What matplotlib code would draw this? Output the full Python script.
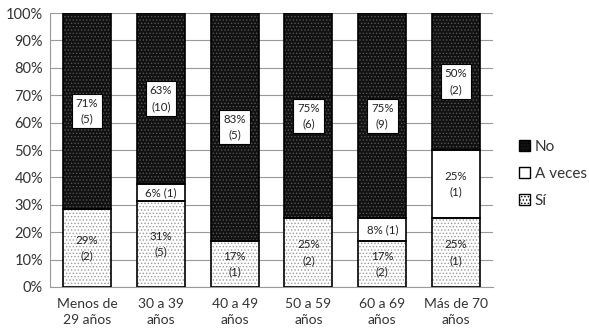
import matplotlib
matplotlib.use("Agg")
import matplotlib.pyplot as plt
from matplotlib.patches import Patch
import numpy as np

categories = ["Menos de\n29 años", "30 a 39\naños", "40 a 49\naños", "50 a 59\naños", "60 a 69\naños", "Más de 70\naños"]
si_counts = [2, 5, 1, 2, 2, 1]
aveces_counts = [0, 1, 0, 0, 1, 1]
no_counts = [5, 10, 5, 6, 9, 2]
si_labels = ["29%\n(2)", "31%\n(5)", "17%\n(1)", "25%\n(2)", "17%\n(2)", "25%\n(1)"]
aveces_labels = ["", "6% (1)", "", "", "8% (1)", "25%\n(1)"]
no_labels = ["71%\n(5)", "63%\n(10)", "83%\n(5)", "75%\n(6)", "75%\n(9)", "50%\n(2)"]
yticks = [0, 10, 20, 30, 40, 50, 60, 70, 80, 90, 100]

plt.rcParams['font.family'] = ['Lato', 'DejaVu Sans']
plt.rcParams['hatch.linewidth'] = 0.6

si = np.array(si_counts, float)
av = np.array(aveces_counts, float)
no = np.array(no_counts, float)
tot = si + av + no
si_p = si / tot * 100
av_p = av / tot * 100
no_p = no / tot * 100

fig = plt.figure(figsize=(5.89, 3.36), dpi=100)
ax = fig.add_axes([0.085, 0.146, 0.752, 0.815])
x = np.arange(len(categories))
w = 0.65

def layer(vals, bottom, face, hatchcol, hatch):
    if hatch:
        ax.bar(x, vals, w, bottom=bottom, color=face, edgecolor=hatchcol, hatch=hatch, linewidth=0, zorder=2)
    else:
        ax.bar(x, vals, w, bottom=bottom, color=face, linewidth=0, zorder=2)
    ax.bar(x, vals, w, bottom=bottom, fill=False, edgecolor='black', linewidth=1.2, zorder=3)

layer(si_p, 0, 'white', '#9a9a9a', '.....')
layer(av_p, si_p, 'white', None, None)
layer(no_p, si_p + av_p, '#111111', '#555555', '.....')

box = dict(boxstyle='square,pad=0.35', facecolor='white', edgecolor='black', linewidth=0.8)
fs = 8.3
for i in range(len(categories)):
    ax.text(x[i], si_p[i] / 2, si_labels[i], ha='center', va='center', fontsize=fs, linespacing=1.5, zorder=5,
            color='#222222')
    if aveces_labels[i]:
        ax.text(x[i], si_p[i] + av_p[i] / 2, aveces_labels[i], ha='center', va='center', fontsize=fs,
                linespacing=1.5, zorder=5, color='#222222')
    ax.text(x[i], si_p[i] + av_p[i] + no_p[i] / 2, no_labels[i], ha='center', va='center', fontsize=fs,
            linespacing=1.5, zorder=5, bbox=box, color='#222222')

ax.set_xlim(-0.5, len(categories) - 0.5)
ax.set_ylim(0, 100)
ax.set_yticks(yticks)
ax.set_yticklabels([f"{t}%" for t in yticks], fontsize=10.5, color='#333333')
ax.set_xticks(x)
ax.set_xticklabels(categories, fontsize=10, color='#333333', linespacing=1.4)
ax.tick_params(axis='both', length=0, pad=5)
ax.tick_params(axis='x', pad=8)
ax.yaxis.grid(True, color='#999999', linewidth=0.8, zorder=0)
ax.set_axisbelow(True)
for s in ['top', 'right']:
    ax.spines[s].set_visible(False)
for s in ['left', 'bottom']:
    ax.spines[s].set_color('#999999')
    ax.spines[s].set_linewidth(0.8)

handles = [
    Patch(facecolor='#111111', edgecolor='black', hatch='.....', label='No'),
    Patch(facecolor='white', edgecolor='black', label='A veces'),
    Patch(facecolor='white', edgecolor='black', hatch='.....', label='Sí'),
]
fig.legend(handles=handles, loc='center left', bbox_to_anchor=(0.857, 0.482), frameon=False,
           fontsize=11, handlelength=0.75, handleheight=0.75, handletextpad=0.3, labelspacing=0.85,
           labelcolor='#333333')

fig.savefig("out.png", dpi=100)
